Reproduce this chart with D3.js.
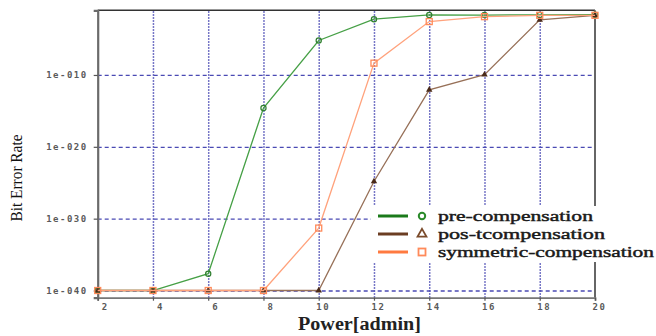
<!DOCTYPE html>
<html>
<head>
<meta charset="utf-8">
<script src="https://cdn.jsdelivr.net/npm/d3@7"></script>
<style>
  html, body { margin: 0; padding: 0; background: #fff; }
  svg { display: block; }
  .serif { font-family: "Liberation Serif", "DejaVu Serif", serif; }
</style>
</head>
<body>
<svg id="chart" width="656" height="336"></svg>
<script>
// ---- data ----
const powers = [2, 4, 6, 8, 10, 12, 14, 16, 18, 20];
const preCompensation = [1e-40, 1e-40, 2.2e-38, 2.5e-15, 6.3e-6, 5.8e-3, 2.3e-2, 2.2e-2, 2.3e-2, 2.4e-2];
const postCompensation = [1e-40, 1e-40, 1e-40, 1e-40, 1e-40, 1.5e-25, 8.5e-13, 1.1e-10, 4.6e-3, 2.0e-2];
const symmetricCompensation = [1e-40, 1e-40, 1e-40, 1e-40, 4.9e-32, 4.4e-9, 2.7e-3, 1.3e-2, 2.0e-2, 2.0e-2];
const seriesNames = ["pre-compensation", "pos-tcompensation", "symmetric-compensation"];
const xTicks = [2, 4, 6, 8, 10, 12, 14, 16, 18, 20];
const yTicks = [1e-10, 1e-20, 1e-30, 1e-40];
const yTickLabels = ["1e-010", "1e-020", "1e-030", "1e-040"];
const xTitle = "Power[admin]";
const yTitle = "Bit Error Rate";

// ---- layout ----
const svg = d3.select("#chart");
const L = 97.7, R = 595, T = 10.3, B = 297.7;
const x = d3.scaleLinear().domain([2, 20]).range([L, R]);
const y = d3.scaleLog().domain([1e-41, 1e-1]).range([B, T]);

const gridColor = "#4a4ab4";

// horizontal dashed gridlines
svg.append("g")
  .attr("transform", `translate(${L},0)`)
  .call(d3.axisLeft(y).tickValues(yTicks).tickSize(-(R - L)).tickFormat(""))
  .call(g => g.select(".domain").remove())
  .call(g => g.selectAll("line")
    .attr("stroke", gridColor).attr("stroke-width", 1.3)
    .attr("stroke-dasharray", "4,3"));

// vertical dotted gridlines
svg.append("g")
  .attr("transform", `translate(0,${B})`)
  .call(d3.axisBottom(x).tickValues(xTicks.slice(1, -1)).tickSize(-(B - T)).tickFormat(""))
  .call(g => g.select(".domain").remove())
  .call(g => g.selectAll("line")
    .attr("stroke", gridColor).attr("stroke-width", 1.5)
    .attr("stroke-dasharray", "1.5,1.5"));

// frame: top and right
svg.append("line").attr("x1", L).attr("x2", R).attr("y1", T).attr("y2", T)
  .attr("stroke", "#333").attr("stroke-width", 1.5);
svg.append("line").attr("x1", R).attr("x2", R).attr("y1", T).attr("y2", B)
  .attr("stroke", "#666").attr("stroke-width", 2);

const tickFont = g => g.selectAll("text")
  .attr("font-family", "DejaVu Sans Mono, monospace")
  .attr("font-size", 9).attr("font-weight", "bold")
  .attr("letter-spacing", 1.5)
  .attr("fill", "#5a5a5a");

// y axis
svg.append("g")
  .attr("transform", `translate(${L},0)`)
  .call(d3.axisLeft(y).tickValues(yTicks).tickSize(4).tickPadding(6)
    .tickFormat((d, i) => yTickLabels[i]))
  .call(g => g.select(".domain").attr("stroke", "#6b6b6b").attr("stroke-width", 2.2))
  .call(g => g.selectAll("line").attr("stroke", "#555").attr("stroke-width", 1.2))
  .call(tickFont);

// x axis
svg.append("g")
  .attr("transform", `translate(0,${B})`)
  .call(d3.axisBottom(x).tickValues(xTicks).tickSize(3).tickPadding(3))
  .call(g => g.select(".domain").attr("stroke", "#777").attr("stroke-width", 1.8))
  .call(g => g.selectAll("line").attr("stroke", "#555").attr("stroke-width", 1.2))
  .call(tickFont)
  .call(g => g.selectAll("text").attr("dx", d => String(d).length === 1 ? 7 : 4));

// series
const series = [
  { name: seriesNames[0], values: preCompensation, line: "#46a046", leg: "#1b7a1b", marker: "circle" },
  { name: seriesNames[1], values: postCompensation, line: "#977058", leg: "#6b3d22", marker: "triangle" },
  { name: seriesNames[2], values: symmetricCompensation, line: "#ffa27c", leg: "#ff7a40", marker: "square" }
];

const lineGen = d3.line().x((d, i) => x(powers[i])).y(d => y(d));

series.forEach(s => {
  const g = svg.append("g");
  g.append("path").datum(s.values)
    .attr("d", lineGen)
    .attr("fill", "none")
    .attr("stroke", s.line)
    .attr("stroke-width", 1.3);
  const pts = g.selectAll(".pt").data(s.values).enter();
  if (s.marker === "circle") {
    pts.append("circle")
      .attr("cx", (d, i) => x(powers[i])).attr("cy", d => y(d)).attr("r", 2.6)
      .attr("fill", "none").attr("stroke", "#2f7f2f").attr("stroke-width", 1.2);
  } else if (s.marker === "triangle") {
    pts.append("path")
      .attr("d", d3.symbol().type(d3.symbolTriangle).size(18))
      .attr("transform", (d, i) => `translate(${x(powers[i])},${y(d)})`)
      .attr("fill", "#4a2a18");
  } else {
    pts.append("rect")
      .attr("x", (d, i) => x(powers[i]) - 3).attr("y", d => y(d) - 3)
      .attr("width", 6).attr("height", 6)
      .attr("fill", "none").attr("stroke", "#ff8a5a").attr("stroke-width", 1.3);
  }
});

// legend
svg.append("rect").attr("x", 371).attr("y", 206).attr("width", 285).attr("height", 56)
  .attr("fill", "#fff");
const legW = [155, 167, 216];
series.forEach((s, i) => {
  const ly = 216 + i * 18;
  svg.append("line").attr("x1", 378).attr("x2", 408).attr("y1", ly).attr("y2", ly)
    .attr("stroke", s.leg).attr("stroke-width", 3);
  if (s.marker === "circle") {
    svg.append("circle").attr("cx", 422).attr("cy", ly).attr("r", 3.2)
      .attr("fill", "none").attr("stroke", "#2a8a2a").attr("stroke-width", 2);
  } else if (s.marker === "triangle") {
    svg.append("path").attr("d", d3.symbol().type(d3.symbolTriangle).size(34))
      .attr("transform", `translate(422,${ly})`)
      .attr("fill", "#fff").attr("stroke", "#7a4a2a").attr("stroke-width", 1.8);
  } else {
    svg.append("rect").attr("x", 418.5).attr("y", ly - 3.5).attr("width", 7).attr("height", 7)
      .attr("fill", "none").attr("stroke", "#ff8a5a").attr("stroke-width", 1.8);
  }
  svg.append("text").attr("class", "serif").attr("x", 438).attr("y", ly + 4.5)
    .attr("font-size", 15)
    .attr("fill", "#1a1a1a").attr("stroke", "#1a1a1a").attr("stroke-width", 0.45)
    .attr("textLength", legW[i]).attr("lengthAdjust", "spacingAndGlyphs")
    .text(s.name);
});

// axis titles
svg.append("text").attr("class", "serif").attr("x", 359.5).attr("y", 330)
  .attr("text-anchor", "middle")
  .attr("font-size", 18).attr("font-weight", "bold").attr("fill", "#222")
  .attr("textLength", 123).attr("lengthAdjust", "spacingAndGlyphs")
  .text(xTitle);

svg.append("text").attr("class", "serif")
  .attr("transform", "translate(22,178) rotate(-90)")
  .attr("text-anchor", "middle")
  .attr("font-size", 17).attr("fill", "#111")
  .attr("textLength", 87).attr("lengthAdjust", "spacingAndGlyphs")
  .text(yTitle);
</script>
</body>
</html>
